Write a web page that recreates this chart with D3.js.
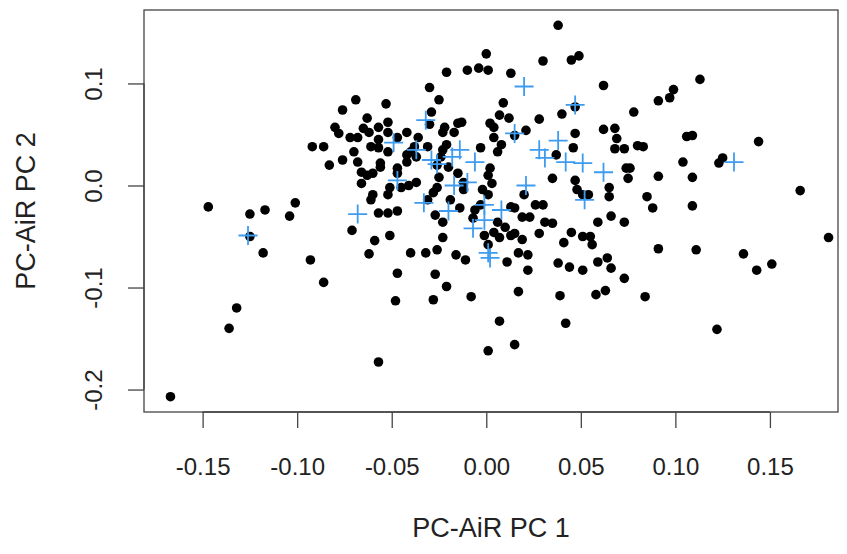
<!DOCTYPE html>
<html>
<head>
<meta charset="utf-8">
<script src="https://cdn.jsdelivr.net/npm/d3@7"></script>
<style>
body { margin: 0; background: white; }
text { font-family: "Liberation Sans", Arial, sans-serif; fill: #222; }
</style>
</head>
<body>
<div id="container"></div>
<script>
// black dots: PC1 / PC2
var blackPC1 = [
-0.030,-0.025,-0.069,-0.053,-0.076,-0.029,-0.063,-0.080,-0.078,-0.052,-0.057,-0.065,-0.062,-0.052,-0.030,-0.022,-0.015,-0.013,-0.017,0.002,
0.004,0.009,0.007,-0.068,-0.072,-0.042,-0.036,-0.047,-0.057,-0.092,-0.086,-0.070,-0.061,-0.057,-0.052,-0.068,-0.076,-0.083,-0.066,-0.063,
-0.060,-0.056,-0.056,-0.047,-0.047,-0.042,-0.040,-0.038,-0.031,-0.042,-0.037,-0.066,-0.061,-0.060,-0.052,-0.051,-0.045,-0.041,-0.037,-0.057,
-0.052,-0.047,-0.101,-0.023,-0.023,-0.021,-0.024,-0.026,-0.025,-0.020,-0.015,-0.012,-0.012,-0.019,-0.031,-0.028,-0.026,-0.027,-0.023,-0.014,
-0.007,-0.006,-0.003,0.002,0.001,0.003,-0.002,0.001,-0.003,0.006,0.008,0.004,
0.038,0.000,-0.021,-0.010,-0.004,0.001,0.013,0.030,0.045,0.049,0.062,0.028,0.040,0.062,0.047,0.021,0.015,0.012,0.047,
0.113,0.099,0.097,0.091,0.078,0.068,0.069,0.106,0.109,
0.068,0.073,0.080,0.083,0.144,0.104,0.125,0.123,0.074,0.076,0.075,0.091,0.109,0.065,0.065,0.085,0.088,0.109,0.166,0.066,
0.073,0.181,0.091,0.111,0.136,0.151,0.143,0.064,0.066,0.073,
-0.051,-0.040,-0.032,-0.026,-0.023,-0.047,-0.027,-0.016,-0.011,0.004,0.007,0.013,0.015,0.019,0.011,0.017,0.022,0.022,0.013,0.015,
0.019,0.023,0.026,0.030,0.028,0.031,0.035,0.020,0.035,0.045,0.041,0.051,0.055,0.056,0.059,0.047,0.048,0.051,0.054,0.038,
0.044,0.051,0.059,0.046,0.037,0.001,-0.001,-0.021,0.006,0.010,
-0.147,-0.125,-0.117,-0.104,-0.125,-0.118,-0.093,-0.086,-0.071,-0.059,-0.062,
-0.167,-0.132,-0.136,-0.057,-0.048,-0.028,-0.008,0.001,0.007,0.015,0.017,0.039,0.042,0.058,0.063,0.084,0.122
];
var blackPC2 = [
0.096,0.084,0.084,0.080,0.074,0.072,0.066,0.057,0.051,0.062,0.057,0.056,0.052,0.052,0.060,0.057,0.061,0.062,0.052,0.061,
0.057,0.081,0.069,0.047,0.047,0.052,0.047,0.047,0.045,0.038,0.038,0.033,0.038,0.037,0.033,0.023,0.025,0.020,0.013,0.010,
0.012,0.022,0.018,0.012,0.017,0.023,0.033,0.038,0.038,0.030,0.028,0.002,-0.014,-0.009,-0.009,-0.002,-0.002,0.000,0.003,-0.027,
-0.027,-0.025,-0.017,0.052,0.035,0.040,0.028,0.020,0.008,0.018,0.012,0.003,-0.004,-0.014,-0.014,-0.007,-0.002,-0.029,-0.036,-0.022,
-0.032,-0.024,0.037,0.017,0.010,0.002,-0.004,-0.009,-0.019,0.033,0.040,0.047,
0.157,0.129,0.111,0.113,0.115,0.113,0.110,0.122,0.123,0.127,0.098,0.065,0.070,0.055,0.051,0.054,0.049,0.066,0.077,
0.104,0.094,0.086,0.083,0.072,0.056,0.046,0.048,0.049,
0.036,0.036,0.039,0.038,0.043,0.023,0.027,0.022,0.017,0.017,0.007,0.009,0.008,-0.002,-0.011,-0.011,-0.022,-0.020,-0.005,-0.030,
-0.036,-0.051,-0.062,-0.063,-0.067,-0.077,-0.083,-0.071,-0.081,-0.091,
-0.049,-0.066,-0.066,-0.063,-0.051,-0.086,-0.087,-0.068,-0.073,-0.046,-0.051,-0.049,-0.047,-0.053,-0.075,-0.066,-0.068,-0.083,-0.021,-0.022,
-0.031,-0.031,-0.019,-0.019,-0.047,-0.036,-0.037,-0.009,0.007,-0.046,-0.056,-0.050,-0.050,-0.058,-0.036,0.005,-0.004,-0.009,-0.009,-0.076,
-0.080,-0.083,-0.075,0.037,0.030,-0.058,-0.049,-0.099,-0.036,-0.041,
-0.021,-0.028,-0.024,-0.030,-0.050,-0.066,-0.073,-0.095,-0.044,-0.054,-0.067,
-0.207,-0.120,-0.140,-0.173,-0.113,-0.112,-0.109,-0.162,-0.133,-0.156,-0.104,-0.108,-0.135,-0.107,-0.103,-0.109,-0.141
];
// blue crosses: PC1 / PC2
var bluePC1 = [-0.126,-0.068,-0.049,-0.032,-0.037,-0.029,-0.026,-0.018,-0.014,-0.006,-0.047,-0.017,-0.010,-0.033,-0.001,0.008,-0.020,
-0.007,-0.001,0.001,0.002,0.021,0.020,0.047,0.015,0.038,0.028,0.031,0.042,0.051,0.062,0.052,0.131];
var bluePC2 = [-0.049,-0.028,0.042,0.064,0.035,0.025,0.021,0.028,0.035,0.023,0.005,0.000,0.003,-0.017,-0.019,-0.024,-0.025,
-0.042,-0.034,-0.066,-0.071,0.000,0.097,0.079,0.051,0.044,0.035,0.027,0.023,0.022,0.013,-0.014,0.023];

var xTicks = [-0.15, -0.10, -0.05, 0.00, 0.05, 0.10, 0.15];
var yTicks = [-0.2, -0.1, 0.0, 0.1];

var width = 847, height = 554;
var plotL = 144, plotR = 838, plotT = 10, plotB = 412;

var svg = d3.select('#container').append('svg')
    .attr('width', width)
    .attr('height', height);

var x = d3.scaleLinear().domain([-0.181, 0.186]).range([plotL, plotR]);
var y = d3.scaleLinear().domain([-0.222, 0.172]).range([plotB, plotT]);

var points = blackPC1.map(function(d, i) { return [d, blackPC2[i]]; });
var crosses = bluePC1.map(function(d, i) { return [d, bluePC2[i]]; });

svg.append('g').selectAll('circle')
    .data(points)
    .enter().append('circle')
    .attr('cx', d => x(d[0]))
    .attr('cy', d => y(d[1]))
    .attr('r', 4.8)
    .attr('fill', 'black');

var arm = 9.5;
svg.append('g').selectAll('path')
    .data(crosses)
    .enter().append('path')
    .attr('d', function(d) {
        var cx = x(d[0]), cy = y(d[1]);
        return 'M' + (cx - arm) + ',' + cy + 'H' + (cx + arm) + 'M' + cx + ',' + (cy - arm) + 'V' + (cy + arm);
    })
    .attr('stroke', '#3d9cf0')
    .attr('stroke-width', 1.8)
    .attr('fill', 'none');

// frame
svg.append('rect')
    .attr('x', plotL).attr('y', plotT)
    .attr('width', plotR - plotL).attr('height', plotB - plotT)
    .attr('fill', 'none')
    .attr('stroke', '#444')
    .attr('stroke-width', 1.3);

var xAxis = svg.append('g')
    .attr('transform', 'translate(0,' + plotB + ')')
    .call(d3.axisBottom(x).tickValues(xTicks).tickFormat(d3.format('.2f')).tickSize(16).tickSizeOuter(0));
var yAxis = svg.append('g')
    .attr('transform', 'translate(' + plotL + ',0)')
    .call(d3.axisLeft(y).tickValues(yTicks).tickFormat(d3.format('.1f')).tickSize(16).tickSizeOuter(0));

[xAxis, yAxis].forEach(function(g) {
    g.select('.domain').remove();
    g.selectAll('line').attr('stroke', '#444').attr('stroke-width', 1.3);
    g.selectAll('text').style('font-size', '24px').attr('fill', '#222')
        .text(function(d) { return d3.select(this).text().replace('\u2212', '-'); });
});
xAxis.append('line').attr('x1', x(-0.15)).attr('x2', x(0.15)).attr('stroke', '#444').attr('stroke-width', 1.3);
yAxis.append('line').attr('y1', y(-0.2)).attr('y2', y(0.1)).attr('stroke', '#444').attr('stroke-width', 1.3);

xAxis.selectAll('text').attr('y', 55).attr('dy', '0.35em');
yAxis.selectAll('text')
    .attr('x', null).attr('dy', null)
    .attr('text-anchor', 'middle')
    .attr('dominant-baseline', 'central')
    .attr('transform', 'translate(' + (93 - plotL) + ',0) rotate(-90)');

svg.append('text')
    .attr('x', (plotL + plotR) / 2)
    .attr('y', 528)
    .attr('text-anchor', 'middle')
    .attr('dominant-baseline', 'central')
    .style('font-size', '27px')
    .text('PC-AiR PC 1');

svg.append('text')
    .attr('transform', 'translate(26,' + (plotT + plotB) / 2 + ') rotate(-90)')
    .attr('text-anchor', 'middle')
    .attr('dominant-baseline', 'central')
    .style('font-size', '27px')
    .text('PC-AiR PC 2');
</script>
</body>
</html>
